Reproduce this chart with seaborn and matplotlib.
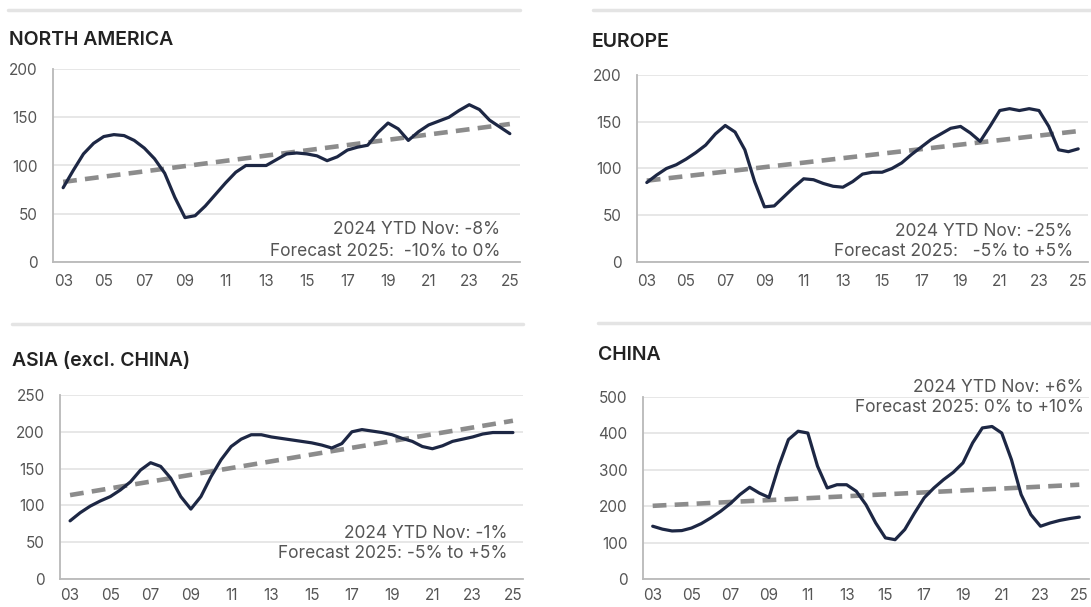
import numpy as np
import pandas as pd
import matplotlib
matplotlib.use("Agg")
import matplotlib.pyplot as plt
import seaborn as sns

# ============================================================================
# DATA (half-year steps 2003 .. 2025)
# ============================================================================

years = np.arange(2003, 2025.01, 0.5)
tick_years = list(range(2003, 2026, 2))
tick_labels = [f"{y % 100:02d}" for y in tick_years]

north_america = [77, 95, 112, 123, 130, 132, 131, 126, 118, 107, 92, 67, 46, 48,
                 58, 70, 82, 93, 100, 100, 100, 106, 112, 113, 112, 110, 105, 109,
                 116, 119, 121, 134, 144, 138, 126, 135, 142, 146, 150, 157, 163,
                 158, 147, 140, 133]
europe = [85, 93, 100, 104, 110, 117, 125, 137, 146, 139, 120, 86, 59, 60,
          70, 80, 89, 88, 84, 81, 80, 86, 94, 96, 96, 100, 106, 115,
          123, 131, 137, 143, 145, 138, 129, 145, 162, 164, 162, 164, 162,
          145, 120, 118, 121]
asia = [79, 90, 99, 106, 112, 121, 132, 148, 158, 153, 137, 112, 95, 112,
        139, 162, 180, 190, 196, 196, 193, 191, 189, 187, 185, 182, 178, 184,
        200, 203, 201, 199, 196, 191, 187, 180, 177, 181, 187, 190, 193,
        197, 199, 199, 199]
china = [145, 137, 132, 133, 140, 152, 168, 186, 207, 232, 252, 236, 224, 310,
         383, 406, 401, 310, 250, 259, 259, 241, 204, 154, 113, 108, 136, 181,
         223, 250, 273, 293, 319, 374, 415, 419, 401, 328, 232, 177, 145,
         154, 161, 166, 170]

# dashed trend line: value at 2003 and at 2025
trend_years = [2003, 2025]
trend_na = [83, 143]
trend_eu = [87, 140]
trend_asia = [114, 215]
trend_china = [201, 259]

notes_na = ["2024 YTD Nov: -8%", "Forecast 2025:  -10% to 0%"]
notes_eu = ["2024 YTD Nov: -25%", "Forecast 2025:   -5% to +5%"]
notes_asia = ["2024 YTD Nov: -1%", "Forecast 2025: -5% to +5%"]
notes_china = ["2024 YTD Nov: +6%", "Forecast 2025: 0% to +10%"]

# ============================================================================
# STYLE
# ============================================================================

sns.set_style("white")
plt.rcParams['font.family'] = ['Inter', 'DejaVu Sans']

W, H = 1091, 607
NAVY = "#1d2744"
TREND = "#8c8c8c"
GRID = "#e3e3e3"
AXIS = "#b9b9b9"
TEXT = "#555555"

fig = plt.figure(figsize=(W / 100, H / 100), dpi=100)


def fx(x):
    return x / W


def fy(y):
    return 1 - y / H


panels = [
    # title, series, trend, ymax, ystep, notes, axes box (left, top, right, bottom px),
    # title pos, separator (x0, x1, y), note pos (x, y1, y2), x label pad
    ("NORTH AMERICA", north_america, trend_na, 200, 50, notes_na,
     (53, 69, 520, 262), (9, 40), (8, 520, 10), (500, 230, 252), 9),
    ("EUROPE", europe, trend_eu, 200, 50, notes_eu,
     (637, 75, 1088, 262), (592, 42), (593, 1091, 10), (1073, 232, 251), 9),
    ("ASIA (excl. CHINA)", asia, trend_asia, 250, 50, notes_asia,
     (60, 395, 523, 579), (12, 361), (12, 523, 324), (507, 533, 553), 6.5),
    ("CHINA", china, trend_china, 500, 100, notes_china,
     (643, 397, 1089, 579), (598, 355), (598, 1091, 323), (1084, 387, 408), 6.5),
]

for title, series, trend, ymax, ystep, notes, box, tpos, sep, npos, xpad in panels:
    l, t, r, b = box
    ax = fig.add_axes([fx(l), fy(b), fx(r - l), (b - t) / H])

    df = pd.DataFrame({"year": years, "value": series})
    tdf = pd.DataFrame({"year": trend_years, "value": trend})

    sns.lineplot(data=tdf, x="year", y="value", ax=ax, color=TREND, lw=3.3, zorder=3)
    ax.lines[-1].set_dashes((3, 1.8))
    ax.lines[-1].set_dash_capstyle("butt")
    sns.lineplot(data=df, x="year", y="value", ax=ax, color=NAVY, lw=2.3, zorder=4)
    ax.lines[-1].set_solid_joinstyle("round")
    ax.lines[-1].set_solid_capstyle("round")

    ax.set_xlim(2002.5, 2025.5)
    ax.set_ylim(0, ymax)
    ax.set_yticks(np.arange(0, ymax + 1, ystep))
    ax.set_xticks(tick_years)
    ax.set_xticklabels(tick_labels)
    ax.set_xlabel("")
    ax.set_ylabel("")

    ax.grid(axis="y", color=GRID, lw=1.2, zorder=0)
    ax.set_axisbelow(True)
    for side in ["top", "right"]:
        ax.spines[side].set_visible(False)
    for side in ["left", "bottom"]:
        ax.spines[side].set_color(AXIS)
        ax.spines[side].set_linewidth(1.3)
    ax.tick_params(axis="y", length=4, width=1.2, color=AXIS, pad=7,
                   labelsize=11, labelcolor=TEXT)
    ax.tick_params(axis="x", length=0, pad=xpad, labelsize=11, labelcolor=TEXT)

    # title and separator line
    fig.text(fx(tpos[0]), fy(tpos[1]), title, ha="left", va="center",
             fontsize=14, fontweight="semibold", color="#222222")
    fig.add_artist(plt.Line2D([fx(sep[0]), fx(sep[1])], [fy(sep[2])] * 2,
                              color="#e4e4e4", lw=2.5))

    # YTD / forecast note
    fig.text(fx(npos[0]), fy(npos[1]), notes[0], ha="right", va="center",
             fontsize=12.5, color=TEXT)
    fig.text(fx(npos[0]), fy(npos[2]), notes[1], ha="right", va="center",
             fontsize=12.5, color=TEXT)

fig.savefig("out.png", dpi=100)
